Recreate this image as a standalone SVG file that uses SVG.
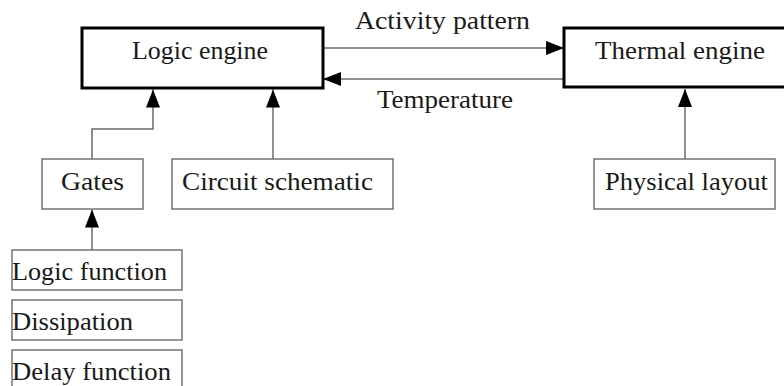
<svg xmlns="http://www.w3.org/2000/svg" width="784" height="386" viewBox="0 0 784 386">
<style>
.t{font-family:'Liberation Serif','DejaVu Serif',serif;font-size:25px;fill:#1a1a1a}
.thick{fill:#fff;stroke:#000;stroke-width:3}
.thin{fill:#fff;stroke:#6b6b6b;stroke-width:1.4}
.conn{fill:none;stroke:#6b6b6b;stroke-width:1.5}
</style>
<defs>
<marker id="ah" markerUnits="userSpaceOnUse" markerWidth="18" markerHeight="14" viewBox="0 0 18 14" refX="18" refY="7" orient="auto">
<path d="M0,0 L18,7 L0,14 Z" fill="#000"/>
</marker>
</defs>
<rect width="784" height="386" fill="#fff"/>
<g id="connectors">
<path class="conn" d="M323,48 H564" marker-end="url(#ah)"/>
<path class="conn" d="M564,79 H323" marker-end="url(#ah)"/>
<path class="conn" d="M92,159 V129 H153 V89.5" marker-end="url(#ah)"/>
<path class="conn" d="M273,159 V89.5" marker-end="url(#ah)"/>
<path class="conn" d="M685,159 V89" marker-end="url(#ah)"/>
<path class="conn" d="M92,250 V209.5" marker-end="url(#ah)"/>
<text class="t" font-family="Liberation Serif, serif" x="355" y="29" textLength="175" lengthAdjust="spacingAndGlyphs">Activity pattern</text>
<text class="t" font-family="Liberation Serif, serif" x="377" y="108" textLength="136" lengthAdjust="spacingAndGlyphs">Temperature</text>
</g>
<g id="logic-engine">
<rect class="thick" x="82" y="28" width="241" height="60"/>
<text class="t" font-family="Liberation Serif, serif" x="132" y="59" textLength="136" lengthAdjust="spacingAndGlyphs">Logic engine</text>
</g>
<g id="thermal-engine">
<rect class="thick" x="564" y="28" width="240" height="59"/>
<text class="t" font-family="Liberation Serif, serif" x="595" y="59" textLength="170" lengthAdjust="spacingAndGlyphs">Thermal engine</text>
</g>
<g id="gates">
<rect class="thin" x="42" y="159" width="101" height="50"/>
<text class="t" font-family="Liberation Serif, serif" x="61" y="190" textLength="63" lengthAdjust="spacingAndGlyphs">Gates</text>
</g>
<g id="circuit-schematic">
<rect class="thin" x="172" y="159" width="221" height="50"/>
<text class="t" font-family="Liberation Serif, serif" x="182" y="190" textLength="191" lengthAdjust="spacingAndGlyphs">Circuit schematic</text>
</g>
<g id="physical-layout">
<rect class="thin" x="594" y="159" width="181" height="50"/>
<text class="t" font-family="Liberation Serif, serif" x="605" y="190" textLength="163" lengthAdjust="spacingAndGlyphs">Physical layout</text>
</g>
<g id="logic-function">
<rect class="thin" x="12" y="250" width="170" height="40"/>
<text class="t" font-family="Liberation Serif, serif" x="12" y="280" textLength="155" lengthAdjust="spacingAndGlyphs">Logic function</text>
</g>
<g id="dissipation">
<rect class="thin" x="12" y="300" width="170" height="40"/>
<text class="t" font-family="Liberation Serif, serif" x="12" y="330" textLength="121" lengthAdjust="spacingAndGlyphs">Dissipation</text>
</g>
<g id="delay-function">
<rect class="thin" x="12" y="350" width="170" height="50"/>
<text class="t" font-family="Liberation Serif, serif" x="12" y="380" textLength="159" lengthAdjust="spacingAndGlyphs">Delay function</text>
</g>
</svg>
